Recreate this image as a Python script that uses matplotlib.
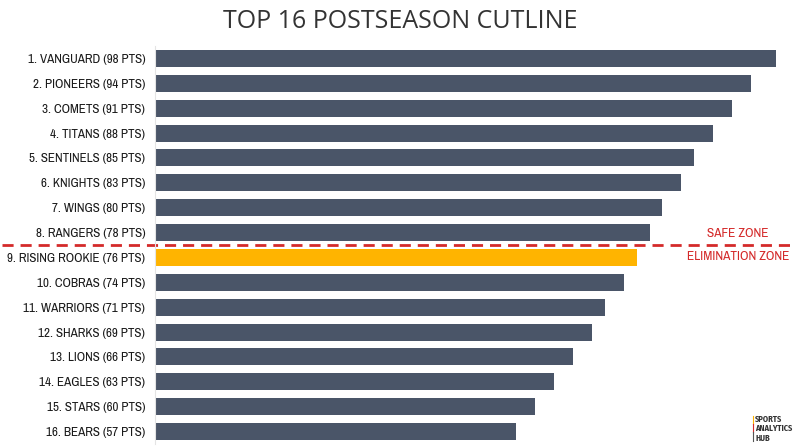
import matplotlib
matplotlib.use("Agg")
import matplotlib.pyplot as plt
import matplotlib.transforms as mtransforms

# データ
teams = ["VANGUARD", "PIONEERS", "COMETS", "TITANS", "SENTINELS", "KNIGHTS",
         "WINGS", "RANGERS", "RISING ROOKIE", "COBRAS", "WARRIORS", "SHARKS",
         "LIONS", "EAGLES", "STARS", "BEARS"]
points = [98, 94, 91, 88, 85, 83, 80, 78, 76, 74, 71, 69, 66, 63, 60, 57]
highlight_team = "RISING ROOKIE"
cutline_after = 8  # 上位8チームが安全圏

labels = ["%d. %s (%d PTS)" % (i + 1, t, p) for i, (t, p) in enumerate(zip(teams, points))]

# 細めのフォント
narrow = ["Archivo Narrow", "DejaVu Sans"]
logo_font = ["Fira Sans Condensed", "DejaVu Sans"]

BAR = "#4a5568"
GOLD = "#ffb400"
RED = "#d42a2a"

fig = plt.figure(figsize=(8, 4.47), dpi=100)
ax = fig.add_axes([155 / 800, 3 / 447, 634 / 800, 398 / 447])

colors = [GOLD if t == highlight_team else BAR for t in teams]
y = list(range(len(teams)))
ax.barh(y, points, height=0.68, color=colors)

ax.set_xlim(0, 100)
ax.set_ylim(len(teams) - 0.5, -0.5)
ax.set_yticks(y)
ax.set_yticklabels(labels, fontfamily=narrow, fontsize=9.4, color="#1a1a1a")
ax.tick_params(axis="y", length=0, pad=7)
ax.set_xticks([])
for s in ["top", "right", "bottom"]:
    ax.spines[s].set_visible(False)
ax.spines["left"].set_color("#e4e4e4")

# カットライン（図の横幅いっぱい）
trans = mtransforms.blended_transform_factory(fig.transFigure, ax.transData)
cut_y = cutline_after - 0.5
ax.plot([0.003, 0.993], [cut_y, cut_y], transform=trans, color=RED,
        linestyle=(0, (4, 2.5)), linewidth=2, clip_on=False)
ax.text(738 / 800, cut_y - 0.45, "SAFE ZONE", transform=trans, ha="center",
        va="center", fontfamily=narrow, fontsize=9.6, color=RED)
ax.text(738 / 800, cut_y + 0.45, "ELIMINATION ZONE", transform=trans,
        ha="center", va="center", fontfamily=narrow, fontsize=9.6, color=RED)

# タイトル
fig.text(0.5, 1 - 21 / 447, "TOP 16 POSTSEASON CUTLINE", ha="center",
         va="center", fontfamily="Open Sans", fontsize=18, color="#333333")

# ロゴ
for (y0, y1), c in zip([(416, 424), (424, 432), (432, 441)], [GOLD, RED, "#555555"]):
    fig.add_artist(plt.Line2D([752.5 / 800, 752.5 / 800], [1 - y0 / 447, 1 - y1 / 447],
                              color=c, linewidth=0.8))
fig.text(755 / 800, 1 - 428.5 / 447, "SPORTS\nANALYTICS\nHUB", ha="left",
         va="center", fontfamily=logo_font, fontweight="bold", fontsize=6,
         color="#333333", linespacing=1.1)

fig.savefig("out.png", dpi=100)
